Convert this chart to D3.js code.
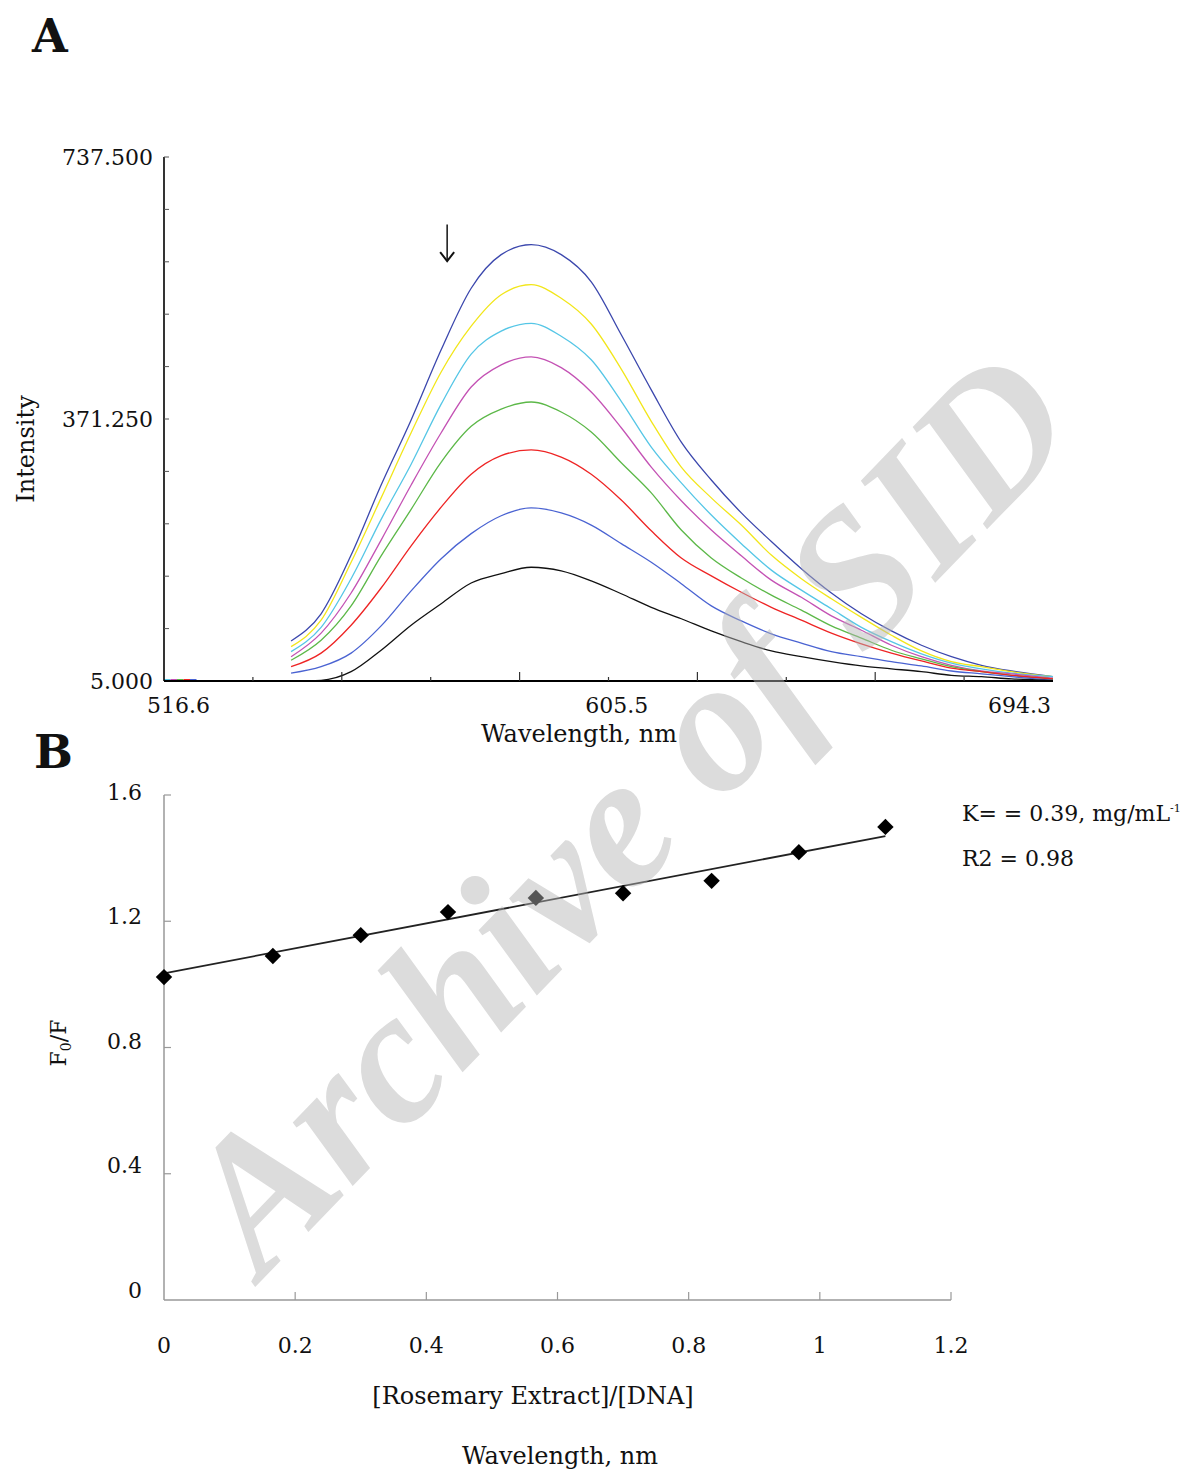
<!DOCTYPE html>
<meta charset="utf-8">
<style>

body {
  margin: 0;
  background: #fff;
}

svg {
  display: block;
}

text {
  font-family: "DejaVu Serif", serif;
  fill: #111;
}

.panel-label {
  font-weight: bold;
  font-size: 46px;
}

.tick-label {
  font-size: 22px;
}

.axis-title {
  font-size: 24px;
}

.spectrum {
  fill: none;
  stroke-width: 1.3;
  stroke-linejoin: round;
}

.watermark {
  font-family: "Liberation Serif", serif;
  font-weight: bold;
  font-style: italic;
  font-size: 190px;
  fill: #b5b5b5;
  opacity: 0.47;
}

</style>
<svg width="1186" height="1473"></svg>
<script src="https://cdn.jsdelivr.net/npm/d3@7/dist/d3.min.js"></script>
<script>

// ---- panel A: emission spectra ----
var wavelengths = [542, 548, 554, 560, 566, 572, 578, 584, 590, 596, 602, 608, 614,
                   620, 626, 632, 638, 644, 650, 656, 662, 668, 674, 680, 686, 694.3];

var spectrum1 = [61, 99, 181, 279, 370, 468, 554, 601, 615, 601, 563, 489, 412, 339, 286, 240, 200, 162, 128, 99, 75, 55, 39, 27, 19, 11];
var spectrum2 = [53, 90, 171, 261, 352, 437, 501, 545, 559, 540, 504, 441, 368, 304, 261, 223, 181, 148, 120, 94, 69, 47, 32, 25, 18, 11];
var spectrum3 = [46, 80, 148, 231, 308, 392, 462, 494, 505, 487, 454, 396, 332, 282, 237, 197, 160, 132, 106, 80, 60, 43, 30, 22, 16, 11];
var spectrum4 = [39, 72, 128, 202, 279, 352, 416, 447, 458, 443, 409, 359, 304, 257, 216, 180, 146, 122, 96, 76, 55, 39, 27, 19, 15, 9];
var spectrum5 = [34, 62, 110, 180, 245, 311, 361, 385, 395, 381, 353, 310, 268, 216, 177, 149, 125, 104, 82, 65, 48, 36, 25, 18, 13, 8];
var spectrum6 = [25, 44, 83, 135, 194, 248, 294, 320, 328, 318, 294, 258, 215, 177, 152, 129, 108, 90, 72, 57, 44, 33, 23, 18, 13, 8];
var spectrum7 = [16, 25, 44, 82, 131, 176, 211, 236, 247, 240, 223, 197, 171, 141, 110, 89, 71, 58, 46, 39, 32, 26, 19, 15, 11, 6];
var spectrum8 = [5, 6, 18, 48, 83, 113, 142, 155, 164, 159, 145, 127, 108, 92, 75, 60, 47, 39, 32, 26, 22, 18, 13, 11, 8, 6];

var spectra = [spectrum1, spectrum2, spectrum3, spectrum4, spectrum5, spectrum6, spectrum7, spectrum8];
var spectrumColors = ["#3b47ad", "#f2e61a", "#55c6e6", "#c452b4", "#5cb848", "#ee2424", "#4a63d2", "#111111"];

// short coloured stubs lying on the baseline at the start of the range
var stubStart = [516.6, 517.9, 519.2, 520.5, 521.8];
var stubColors = ["#55c6e6", "#c452b4", "#5cb848", "#ee2424", "#4a63d2"];
var stubLength = 1.3;

var intensityTicks = [5, 78.25, 151.5, 224.75, 298, 371.25, 444.5, 517.75, 591, 664.25, 737.5];
var intensityLabels = [5, 371.25, 737.5];
var wavelengthTicks = [516.6, 534.37, 552.14, 569.91, 587.68, 605.45, 623.22, 640.99, 658.76, 676.53, 694.3];
var wavelengthLabels = ["516.6", "605.5", "694.3"];

var arrowAt = { wavelength: 573.2, from: 643, to: 592 };

// ---- panel B: Stern-Volmer plot ----
var ratio = [0, 0.166, 0.30, 0.433, 0.567, 0.70, 0.835, 0.968, 1.10];
var f0f = [1.023, 1.09, 1.156, 1.229, 1.274, 1.289, 1.328, 1.419, 1.499];
var fitRatio = [0, 1.1];
var fitF0f = [1.035, 1.47];
var ratioTicks = [0, 0.2, 0.4, 0.6, 0.8, 1, 1.2];
var f0fTicks = [0, 0.4, 0.8, 1.2, 1.6];

var svg = d3.select("svg");

// ================= panel A =================
var xA = d3.scaleLinear().domain([516.6, 694.3]).range([164, 1053]);
var yA = d3.scaleLinear().domain([5, 737.5]).range([681, 157]);

svg.append("text")
    .attr("class", "panel-label")
    .attr("x", 32)
    .attr("y", 52)
    .text("A");

var gA = svg.append("g");

var line = d3.line()
    .x(function(d) { return xA(d[0]); })
    .y(function(d) { return yA(d[1]); })
    .curve(d3.curveMonotoneX);

gA.selectAll(".stub")
    .data(stubStart)
  .enter().append("line")
    .attr("class", "stub")
    .attr("x1", function(d) { return xA(d); })
    .attr("x2", function(d) { return xA(d + stubLength); })
    .attr("y1", yA(5) - 1)
    .attr("y2", yA(5) - 1)
    .attr("stroke", function(d, i) { return stubColors[i]; })
    .attr("stroke-width", 2);

gA.selectAll(".spectrum")
    .data(spectra)
  .enter().append("path")
    .attr("class", "spectrum")
    .attr("stroke", function(d, i) { return spectrumColors[i]; })
    .attr("d", function(values) {
      return line(values.map(function(v, j) { return [wavelengths[j], v]; }));
    });

// y axis
gA.append("line")
    .attr("x1", xA(516.6)).attr("x2", xA(516.6))
    .attr("y1", yA(737.5)).attr("y2", yA(5))
    .attr("stroke", "#000")
    .attr("stroke-width", 1.6);

gA.selectAll(".ytick")
    .data(intensityTicks)
  .enter().append("line")
    .attr("class", "ytick")
    .attr("x1", xA(516.6)).attr("x2", xA(516.6) + 5)
    .attr("y1", function(d) { return yA(d); })
    .attr("y2", function(d) { return yA(d); })
    .attr("stroke", "#555")
    .attr("stroke-width", 1);

gA.selectAll(".ylabel")
    .data(intensityLabels)
  .enter().append("text")
    .attr("class", "tick-label")
    .attr("x", xA(516.6) - 11)
    .attr("y", function(d) { return yA(d); })
    .attr("dy", "0.36em")
    .attr("text-anchor", "end")
    .text(d3.format(".3f"));

// x axis
gA.append("line")
    .attr("x1", xA(516.6)).attr("x2", xA(694.3))
    .attr("y1", yA(5)).attr("y2", yA(5))
    .attr("stroke", "#000")
    .attr("stroke-width", 1.8);

gA.selectAll(".xtick")
    .data(wavelengthTicks.slice(1, -1))
  .enter().append("line")
    .attr("class", "xtick")
    .attr("x1", function(d) { return xA(d); })
    .attr("x2", function(d) { return xA(d); })
    .attr("y1", yA(5))
    .attr("y2", function(d, i) { return yA(5) - (i % 2 === 1 ? 9 : 4); })
    .attr("stroke", "#333")
    .attr("stroke-width", 1.2);

var xLabelAnchor = ["start", "middle", "end"];
var xLabelShift = [-17, 8, -2];
gA.selectAll(".xlabel")
    .data(wavelengthLabels)
  .enter().append("text")
    .attr("class", "tick-label")
    .attr("x", function(d, i) { return xA(+d) + xLabelShift[i]; })
    .attr("y", 713)
    .attr("text-anchor", function(d, i) { return xLabelAnchor[i]; })
    .text(function(d) { return d; });

gA.append("text")
    .attr("class", "axis-title")
    .attr("x", 579)
    .attr("y", 742)
    .attr("text-anchor", "middle")
    .text("Wavelength, nm");

gA.append("text")
    .attr("class", "axis-title")
    .attr("transform", "translate(34," + ((yA(5) + yA(737.5)) / 2 + 30) + ") rotate(-90)")
    .attr("text-anchor", "middle")
    .text("Intensity");

// arrow
var ax = xA(arrowAt.wavelength);
gA.append("line")
    .attr("x1", ax).attr("x2", ax)
    .attr("y1", yA(arrowAt.from)).attr("y2", yA(arrowAt.to))
    .attr("stroke", "#222")
    .attr("stroke-width", 1.6);
gA.append("path")
    .attr("d", "M" + (ax - 7) + "," + (yA(arrowAt.to) - 9) + "L" + ax + "," + yA(arrowAt.to) + "L" + (ax + 7) + "," + (yA(arrowAt.to) - 9))
    .attr("fill", "none")
    .attr("stroke", "#111")
    .attr("stroke-width", 2);

// ================= panel B =================
var xB = d3.scaleLinear().domain([0, 1.2]).range([164, 951]);
var yB = d3.scaleLinear().domain([0, 1.6]).range([1300, 795]);
var yBLabel = d3.scaleLinear().domain([0, 1.6]).range([1290, 792]);

svg.append("text")
    .attr("class", "panel-label")
    .attr("x", 34)
    .attr("y", 768)
    .text("B");

var gB = svg.append("g");

gB.append("line")
    .attr("x1", xB(0)).attr("x2", xB(0))
    .attr("y1", yB(1.6)).attr("y2", yB(0))
    .attr("stroke", "#999")
    .attr("stroke-width", 1.5);

gB.append("line")
    .attr("x1", xB(0)).attr("x2", xB(1.2))
    .attr("y1", yB(0)).attr("y2", yB(0))
    .attr("stroke", "#999")
    .attr("stroke-width", 1.5);

gB.selectAll(".ytickB")
    .data(f0fTicks.slice(1))
  .enter().append("line")
    .attr("class", "ytickB")
    .attr("x1", xB(0)).attr("x2", xB(0) + 7)
    .attr("y1", function(d) { return yB(d); })
    .attr("y2", function(d) { return yB(d); })
    .attr("stroke", "#999")
    .attr("stroke-width", 1.2);

gB.selectAll(".xtickB")
    .data(ratioTicks.slice(1))
  .enter().append("line")
    .attr("class", "xtickB")
    .attr("x1", function(d) { return xB(d); })
    .attr("x2", function(d) { return xB(d); })
    .attr("y1", yB(0)).attr("y2", yB(0) - 8)
    .attr("stroke", "#999")
    .attr("stroke-width", 1.2);

gB.selectAll(".ylabelB")
    .data(f0fTicks)
  .enter().append("text")
    .attr("class", "tick-label")
    .attr("x", 142)
    .attr("y", function(d) { return yBLabel(d); })
    .attr("dy", "0.36em")
    .attr("text-anchor", "end")
    .text(function(d) { return d === 0 ? "0" : d3.format(".1f")(d); });

gB.selectAll(".xlabelB")
    .data(ratioTicks)
  .enter().append("text")
    .attr("class", "tick-label")
    .attr("x", function(d) { return xB(d); })
    .attr("y", 1353)
    .attr("text-anchor", "middle")
    .text(function(d) { return d3.format("")(d); });

gB.append("text")
    .attr("class", "axis-title")
    .attr("x", 533)
    .attr("y", 1404)
    .attr("text-anchor", "middle")
    .text("[Rosemary Extract]/[DNA]");

gB.append("text")
    .attr("class", "axis-title")
    .attr("x", 560)
    .attr("y", 1464)
    .attr("text-anchor", "middle")
    .text("Wavelength, nm");

var f0Title = gB.append("text")
    .attr("class", "tick-label")
    .attr("transform", "translate(66,1043) rotate(-90)")
    .attr("text-anchor", "middle");
f0Title.append("tspan").text("F");
f0Title.append("tspan").attr("font-size", "14px").attr("dy", "5").text("0");
f0Title.append("tspan").attr("dy", "-5").text("/F");

// fit line
gB.append("line")
    .attr("x1", xB(fitRatio[0])).attr("y1", yB(fitF0f[0]))
    .attr("x2", xB(fitRatio[1])).attr("y2", yB(fitF0f[1]))
    .attr("stroke", "#222")
    .attr("stroke-width", 1.8);

var diamond = d3.symbol().type(d3.symbolSquare).size(135);
gB.selectAll(".pt")
    .data(ratio)
  .enter().append("path")
    .attr("class", "pt")
    .attr("d", diamond)
    .attr("transform", function(d, i) { return "translate(" + xB(d) + "," + yB(f0f[i]) + ") rotate(45)"; })
    .attr("fill", "#000");

var kText = gB.append("text")
    .attr("class", "tick-label")
    .attr("x", 962)
    .attr("y", 821);
kText.append("tspan").text("K= = 0.39, mg/mL");
kText.append("tspan").attr("font-size", "11px").attr("dy", "-9").text("-1");

gB.append("text")
    .attr("class", "tick-label")
    .attr("x", 962)
    .attr("y", 866)
    .text("R2 = 0.98");

// ================= watermark =================
svg.append("text")
    .attr("class", "watermark")
    .attr("transform", "translate(262,1280) rotate(-46)")
    .text("Archive of SID");

</script>
